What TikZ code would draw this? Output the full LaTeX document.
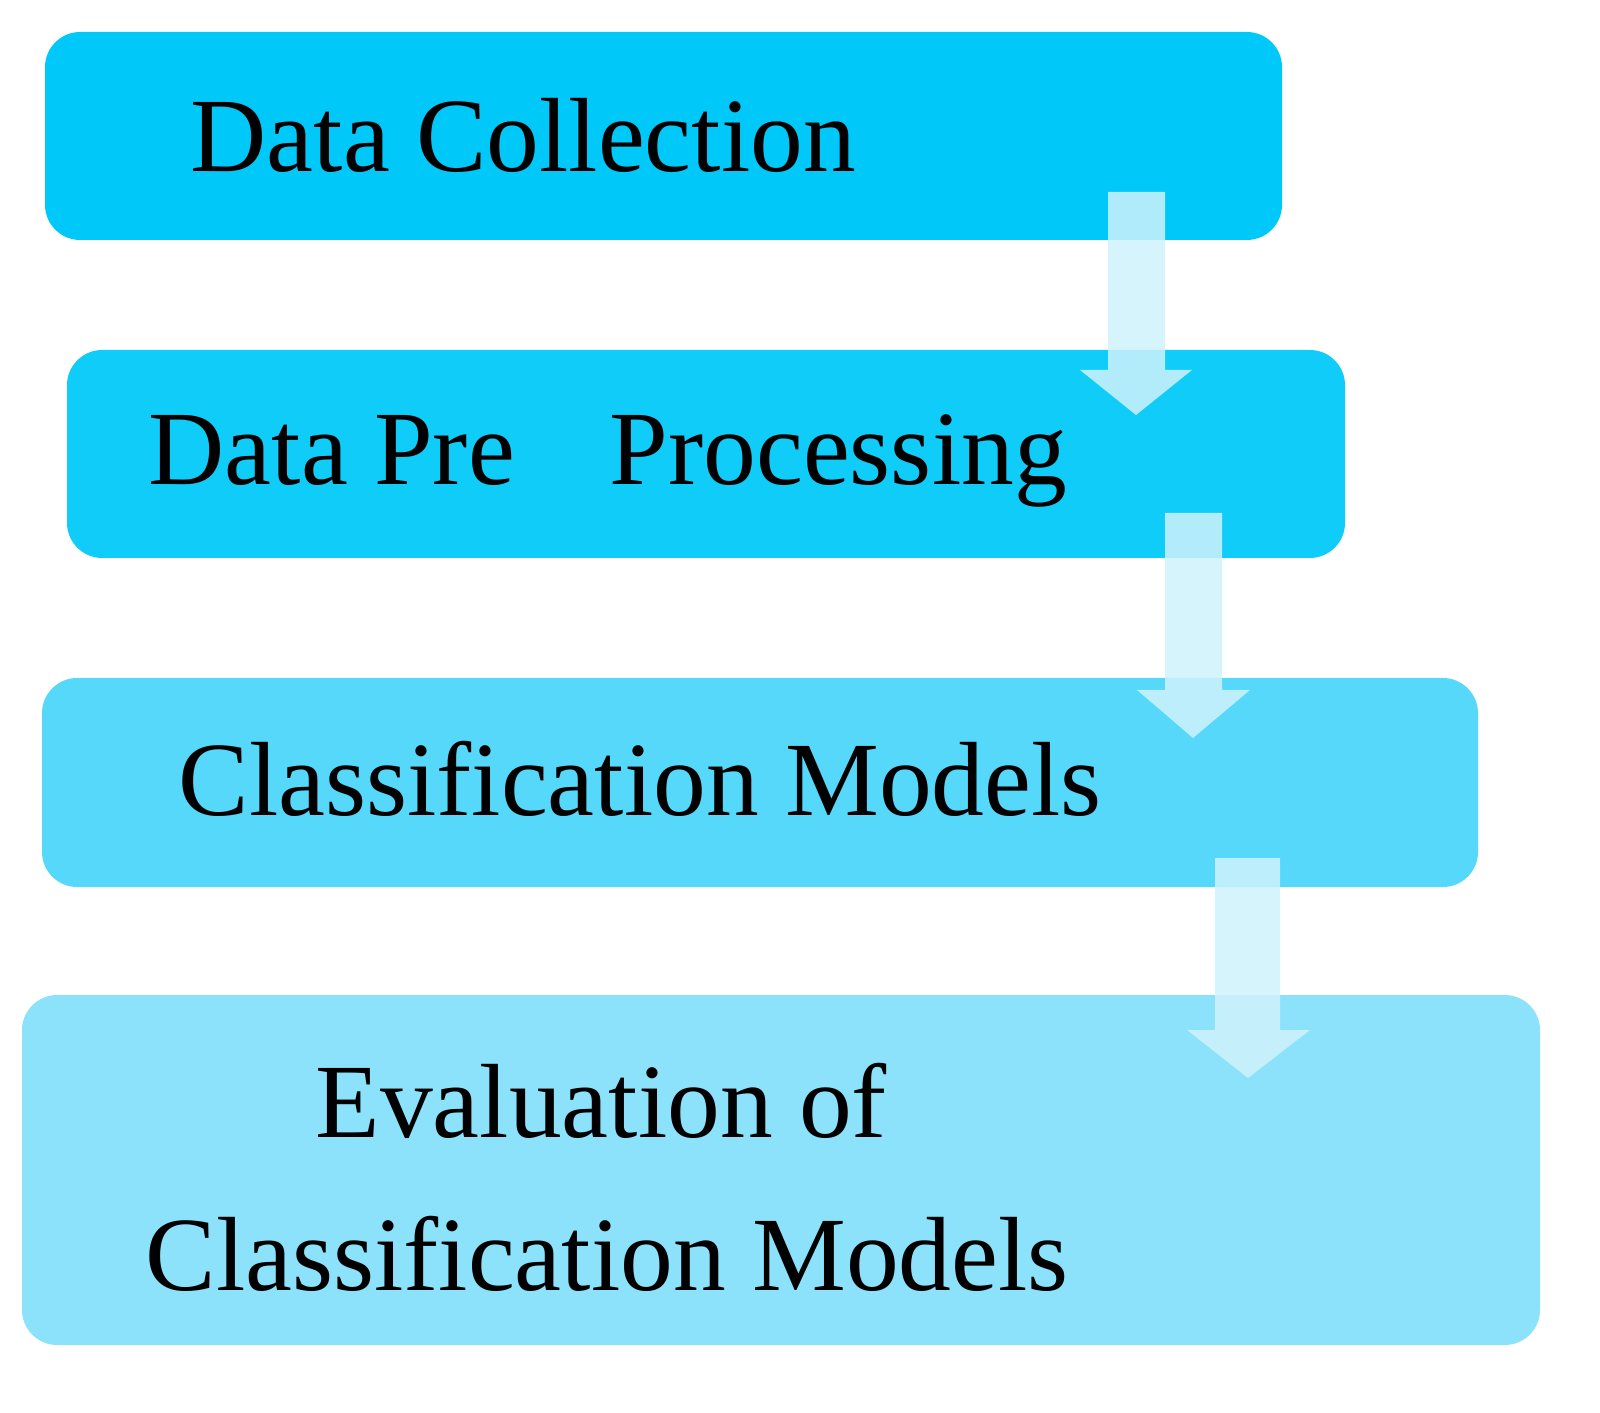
\documentclass[tikz,border=0pt]{standalone}
\usepackage{fontspec}
\setmainfont{Liberation Serif}
\usetikzlibrary{positioning}
\definecolor{boxA}{HTML}{00C8F8}
\definecolor{boxB}{HTML}{10CCF8}
\definecolor{boxC}{HTML}{55D8F9}
\definecolor{boxD}{HTML}{8CE2FA}
\definecolor{flowfill}{HTML}{CFF2FC}
\tikzset{
  stage/.style={rounded corners=10pt, draw=none},
  label/.style={anchor=base west, inner sep=0pt, font=\fontsize{30}{36}\selectfont},
  flow/.style={fill=flowfill, fill opacity=0.85}
}
\begin{document}
\begin{tikzpicture}[x=0.01cm, y=-0.01cm]

% stages
\fill[stage, boxA] (45,32) rectangle (1282,240);
\fill[stage, boxB] (67,350) rectangle (1345,558);
\fill[stage, boxC] (42,678) rectangle (1478,887);
\fill[stage, boxD] (22,995) rectangle (1540,1345);

% texts
\node[label] (collect) at (190,172) {Data Collection};
\node[label] (prep) at (148,485) {Data Pre\hspace{0.9em}Processing};
\node[label] (models) at (178,815) {Classification Models};
\node[label] (evalA) at (315,1137) {Evaluation of};
\node[label] (evalB) at (145,1290) {Classification Models};

% block arrows
\fill[flow] (1108,192) -- (1165,192) -- (1165,370) -- (1192,370) -- (1136,415)
  -- (1080,370) -- (1108,370) -- cycle;
\fill[flow] (1165,513) -- (1222,513) -- (1222,690) -- (1250,690) -- (1193,738)
  -- (1137,690) -- (1165,690) -- cycle;
\fill[flow] (1215,858) -- (1280,858) -- (1280,1030) -- (1310,1030) -- (1248,1078)
  -- (1187,1030) -- (1215,1030) -- cycle;

\pgfresetboundingbox
\useasboundingbox (0,0) rectangle (1600,1413);
\end{tikzpicture}
\end{document}
